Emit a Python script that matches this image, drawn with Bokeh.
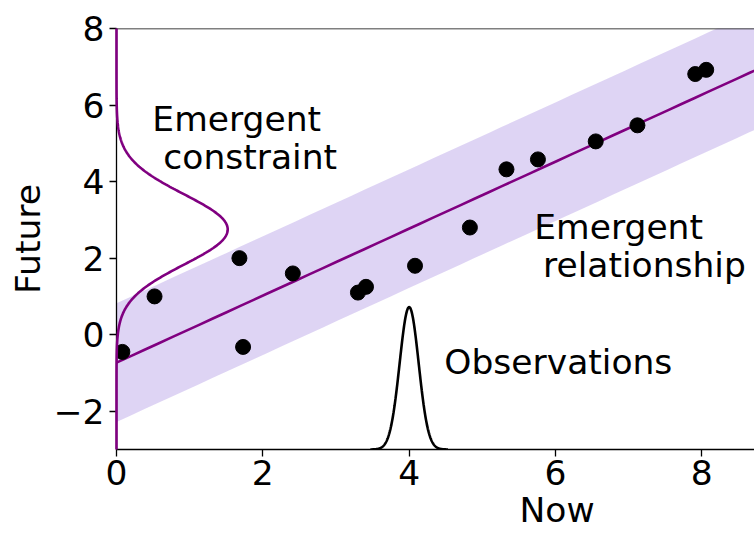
import numpy as np
from bokeh.plotting import figure
from bokeh.models import Range1d, FixedTicker, CustomJSTickFormatter, Span, ColumnDataSource, Title
from bokeh.core.properties import value
from bokeh.embed import file_html
from bokeh.resources import INLINE

# Model ensemble: present-day value vs future value
now_vals = [0.08, 0.52, 1.68, 1.73, 2.41, 3.30, 3.41, 4.08, 4.83, 5.33, 5.76, 6.55, 7.12, 7.91, 8.06]
future_vals = [-0.45, 1.00, 2.00, -0.32, 1.60, 1.10, 1.25, 1.80, 2.80, 4.32, 4.58, 5.05, 5.47, 6.81, 6.92]

# Fitted emergent relationship and its spread
fit_intercept = -0.73
fit_slope = 0.875
fit_halfwidth = 1.55

# Observational estimate (Gaussian on the Now axis)
obs_mean, obs_sd, obs_peak = 4.0, 0.13, 3.72
# Constrained projection (Gaussian on the Future axis)
con_mean, con_sd, con_peak = 2.75, 0.92, 1.52

x_ticks = [0, 2, 4, 6, 8]
y_ticks = [-2, 0, 2, 4, 6, 8]

label_texts = ["Emergent", "constraint", "Emergent", "relationship", "Observations"]
label_x = [0.49, 0.64, 5.71, 5.83, 4.48]
label_y = [5.64, 4.64, 2.81, 1.81, -0.72]

X_MIN, X_MAX = 0.0, 8.72
Y_MIN, Y_MAX = -3.0, 8.0

FONT = "DejaVu Sans"
PURPLE = "#800080"
TEXT_SIZE = "34.5px"

p = figure(width=754, height=533, output_backend="svg", toolbar_location=None,
           x_range=Range1d(X_MIN, X_MAX), y_range=Range1d(Y_MIN, Y_MAX),
           min_border_left=116, min_border_top=28, min_border_bottom=84, min_border_right=0)
p.grid.visible = False
p.outline_line_color = None
p.background_fill_color = "white"
p.border_fill_color = "white"

# Emergent relationship band and line
xf = np.linspace(X_MIN, X_MAX + 0.5, 50)
yf = fit_intercept + fit_slope * xf
p.varea(x=xf, y1=yf - fit_halfwidth, y2=yf + fit_halfwidth, fill_color="mediumpurple", fill_alpha=0.3)
p.line(xf, yf, line_color=PURPLE, line_width=2.6)

# Observation distribution along the Now axis
xo = np.linspace(obs_mean - 0.53, obs_mean + 0.53, 300)
yo = Y_MIN + obs_peak * np.exp(-0.5 * ((xo - obs_mean) / obs_sd) ** 2)
p.line(xo, yo, line_color="black", line_width=2.6)

# Models
p.scatter(now_vals, future_vals, size=15, fill_color="black", line_color="black")

# Constraint distribution along the Future axis, drawn over the left spine
yc = np.linspace(Y_MIN, Y_MAX, 400)
xc = con_peak * np.exp(-0.5 * ((yc - con_mean) / con_sd) ** 2)
p.line(xc, yc, line_color=PURPLE, line_width=2.6, level="overlay")

# Annotations
src = ColumnDataSource(dict(x=label_x, y=label_y, t=label_texts))
p.text(x="x", y="y", text="t", source=src, text_font=value(FONT), text_font_size=TEXT_SIZE,
       text_align="left", text_baseline="alphabetic", text_color="black")

# Top spine
p.add_layout(Span(location=Y_MAX, dimension="width", line_color="black", line_width=1.3))

minus_fmt = CustomJSTickFormatter(code="return tick < 0 ? '\u2212' + Math.abs(tick) : String(tick);")

for ax, ticks in ((p.xaxis, x_ticks), (p.yaxis, y_ticks)):
    ax.ticker = FixedTicker(ticks=ticks)
    ax.formatter = minus_fmt
    ax.major_label_text_font = FONT
    ax.major_label_text_font_size = TEXT_SIZE
    ax.major_label_text_color = "black"
    ax.axis_label_text_font = FONT
    ax.axis_label_text_font_size = TEXT_SIZE
    ax.axis_label_text_font_style = "normal"
    ax.axis_label_text_color = "black"
    ax.axis_line_color = "black"
    ax.axis_line_width = 1.3
    ax.major_tick_line_color = "black"
    ax.major_tick_line_width = 1.3
    ax.major_tick_in = 0
    ax.major_tick_out = 7
    ax.minor_tick_line_color = None
    ax.major_label_standoff = 5

p.xaxis.major_label_standoff = 3
p.yaxis.axis_label = "Future"
p.yaxis.axis_label_standoff = 3

# x-axis title, centred on the full (wider) axes span below the tick labels
p.add_layout(Title(text="Now", align="left", offset=403, standoff=1,
                   text_font=FONT, text_font_size=TEXT_SIZE, text_font_style="normal",
                   text_color="black"), "below")

open("out.html", "w").write(file_html(p, INLINE))
